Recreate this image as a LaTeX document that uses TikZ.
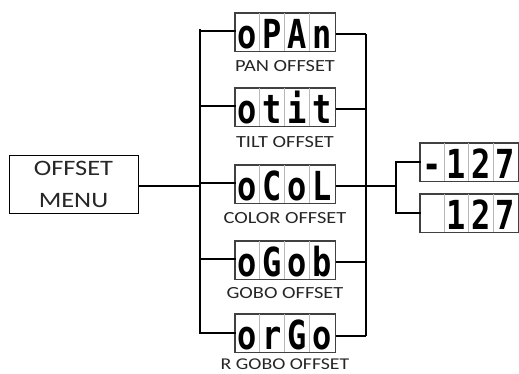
\documentclass[tikz,border=0pt]{standalone}
\usepackage{fontspec}
\usetikzlibrary{calc}
\newfontfamily\labfont[FakeStretch=1.2]{Carlito}
\newfontfamily\segfont[FakeStretch=0.8]{DejaVu Sans Mono}
\tikzset{
  dispframe/.style={draw=black!75, line width=1pt, minimum height=38pt, inner sep=0pt},
  celldiv/.style={draw=black!28, line width=0.8pt},
  seg/.style={font=\segfont\bfseries\fontsize{40}{40}\selectfont, anchor=base, inner sep=0pt},
  lab/.style={font=\labfont\fontsize{17}{17}\selectfont, anchor=base, inner sep=0pt, text=black!85},
  menubox/.style={draw, line width=1pt, minimum width=129pt, minimum height=58pt, align=center,
    font=\labfont\fontsize{22}{32}\selectfont, text=black!85, inner sep=0pt},
  thickc/.style={line width=2.6pt, line cap=rect},
  busc/.style={line width=1.7pt, line cap=rect},
  thinc/.style={line width=1.2pt}
}
\newcommand{\segdisp}[8]{%
  \node[dispframe, minimum width=4*#4] (#1) at (#2,#3) {};
  \foreach \k in {1,2,3} \draw[celldiv] ($(#1.north west)+(\k*#4,0)$) -- ($(#1.south west)+(\k*#4,0)$);
  \node[seg] (#1-a) at ($(#1.south west)+(0.5*#4,-3)$) {#5};
  \node[seg] (#1-b) at ($(#1.south west)+(1.5*#4,-3)$) {#6};
  \node[seg] (#1-c) at ($(#1.south west)+(2.5*#4,-3)$) {#7};
  \node[seg] (#1-d) at ($(#1.south west)+(3.5*#4,-3)$) {#8};
  \draw[dispframe] (#1.north west) rectangle (#1.south east);
}
\begin{document}
\begin{tikzpicture}[x=1pt,y=-1pt]
\useasboundingbox (0,0) rectangle (519,373);
% menu
\node[menubox] (menu) at (73.5,184) {OFFSET\\MENU};
% displays
\segdisp{d1}{285}{32}{25}{o}{P}{A}{n}
\segdisp{d2}{285}{107}{25}{o}{t}{i}{t}
\segdisp{d3}{285}{184}{25}{o}{C}{o}{L}
\segdisp{d4}{285}{260}{25}{o}{G}{o}{b}
\segdisp{d5}{285}{333}{25}{o}{r}{G}{o}
\segdisp{d6}{469}{162}{24.5}{-}{1}{2}{7}
\segdisp{d7}{469}{213}{24.5}{}{1}{2}{7}
% labels
\node[lab] (l1) at ($(d1.south)+(0,20)$) {PAN OFFSET};
\node[lab] (l2) at ($(d2.south)+(0,21)$) {TILT OFFSET};
\node[lab] (l3) at ($(d3.south)+(0,20)$) {COLOR OFFSET};
\node[lab] (l4) at ($(d4.south)+(0,19)$) {GOBO OFFSET};
\node[lab, font=\labfont\fontsize{16.5}{16.5}\selectfont] (l5) at ($(d5.south)+(0,17)$) {R GOBO OFFSET};
% bus coordinates
\coordinate (lbx) at (200,0);
\coordinate (rbx) at (366,0);
\coordinate (bx) at (396,0);
% menu to left bus
\draw[thinc] ([yshift=-2pt]menu.east) -- ([yshift=-2pt]menu.east -| lbx);
% left bus
\draw[busc] ([yshift=2pt]d1.west -| lbx) -- ([yshift=0pt]d5.west -| lbx);
\foreach \d in {d1,d2,d3,d4}
  \draw[thickc] ([yshift=1pt]\d.west -| lbx) -- ([yshift=1pt]\d.west);
\draw[thickc] (d5.west -| lbx) -- (d5.west);
% right bus
\draw[thinc] ([yshift=-2pt]d1.east -| rbx) -- ([yshift=-3pt]d5.east -| rbx);
\foreach \d in {d1,d2,d3,d4}
  \draw[thinc] ([yshift=-2pt]\d.east) -- ([yshift=-2pt]\d.east -| rbx);
\draw[thinc] ([yshift=-3pt]d5.east) -- ([yshift=-3pt]d5.east -| rbx);
% branch to value displays
\draw[thinc] ([yshift=-2pt]d3.east -| rbx) -- ([yshift=-2pt]d3.east -| bx);
\draw[busc] (d6.west -| bx) -- (d7.west -| bx);
\draw[thickc] (d6.west -| bx) -- (d6.west);
\draw[thickc] (d7.west -| bx) -- (d7.west);
\end{tikzpicture}
\end{document}
